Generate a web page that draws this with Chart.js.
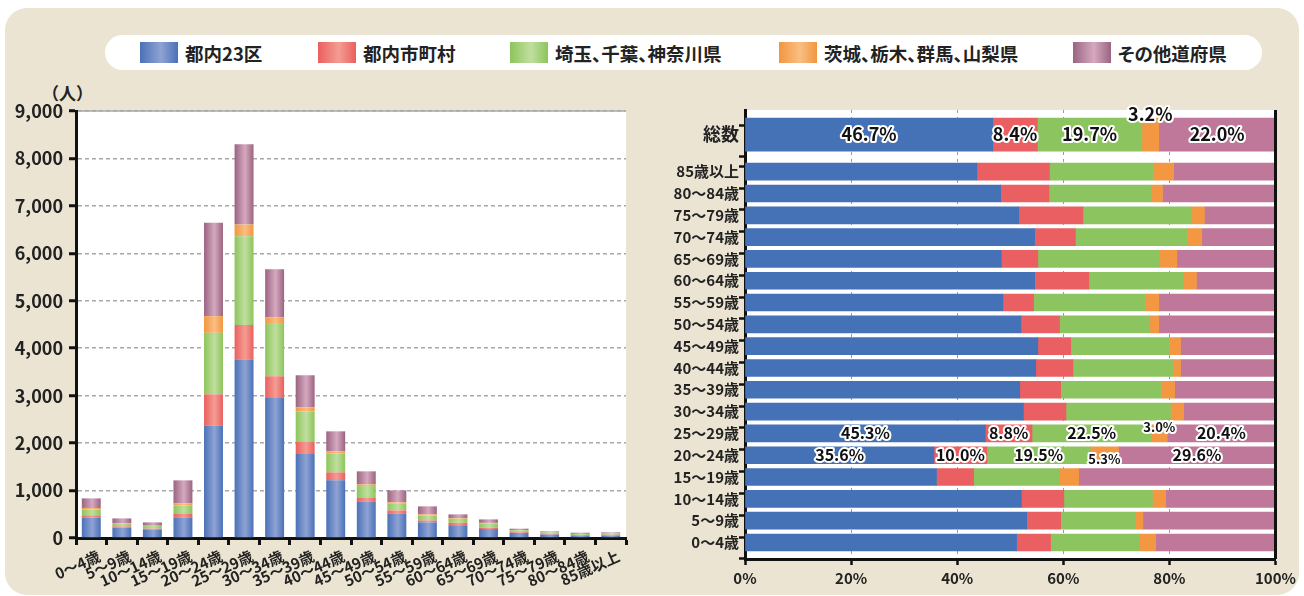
<!DOCTYPE html>
<html lang="ja">
<head>
<meta charset="utf-8">
<script src="https://cdn.jsdelivr.net/npm/chart.js@4.4.1/dist/chart.umd.min.js"></script>
<style>
  html, body { margin: 0; padding: 0; background: #fff; }
  body { width: 1304px; height: 596px; position: relative; overflow: hidden;
         font-family: "Noto Sans CJK JP", "Noto Sans", sans-serif; color: #222; }
  #panel { position: absolute; left: 5px; top: 8px; width: 1294px; height: 587px;
           background: #ebe4d2; border-radius: 22px; }
  #legend { position: absolute; left: 105px; top: 35px; width: 1157px; height: 35px;
            background: #fff; border-radius: 18px; }
  .item { position: absolute; top: 0; height: 35px; display: flex; align-items: center;
          font-size: 18.5px; font-weight: bold; white-space: nowrap; font-feature-settings: "palt"; }
  .sw { width: 38px; height: 21px; margin-right: 7px; }
  #unit { position: absolute; left: 42px; top: 84px; font-size: 17px; line-height: 17px; font-weight: bold; }
  #leftWrap { position: absolute; left: 0; top: 80px; }
  #rightWrap { position: absolute; left: 650px; top: 95px; }
</style>
</head>
<body>
<div id="panel"></div>
<div id="legend"></div>
<div id="unit">（人）</div>
<div id="leftWrap"><canvas id="leftChart" width="640" height="510"></canvas></div>
<div id="rightWrap"><canvas id="rightChart" width="650" height="496"></canvas></div>
<script>
// 年齢階級
const ageLabels = ['0～4歳', '5～9歳', '10～14歳', '15～19歳', '20～24歳', '25～29歳', '30～34歳',
  '35～39歳', '40～44歳', '45～49歳', '50～54歳', '55～59歳', '60～64歳', '65～69歳',
  '70～74歳', '75～79歳', '80～84歳', '85歳以上'];

const seriesNames = ['都内23区', '都内市町村', '埼玉、千葉、神奈川県', '茨城、栃木、群馬、山梨県', 'その他道府県'];

// 人数（人）
const personsKu        = [430, 219, 171, 435, 2365, 3760, 2966, 1770, 1215, 772, 519, 329, 270, 189, 107, 72, 54, 52];
const personsShichoson = [48, 26, 26, 84, 664, 730, 443, 267, 169, 84, 63, 42, 50, 27, 15, 17, 10, 16];
const personsKinkou    = [125, 58, 55, 169, 1295, 1868, 1103, 627, 394, 239, 141, 106, 85, 90, 41, 28, 22, 23];
const personsKitaKanto = [30, 6, 8, 42, 352, 249, 141, 91, 49, 36, 28, 21, 15, 13, 5, 3, 2, 4];
const personsOther     = [202, 104, 69, 485, 1966, 1693, 1012, 675, 421, 274, 253, 169, 78, 73, 28, 19, 24, 23];

// 構成比（％）
const shareKu        = [51.2, 53.1, 52.1, 36.1, 35.6, 45.3, 52.5, 51.8, 54.8, 55.2, 52.0, 48.6, 54.6, 48.3, 54.6, 51.6, 48.2, 43.7];
const shareShichoson = [6.4, 6.4, 8.0, 7.0, 10.0, 8.8, 8.0, 7.7, 7.0, 6.2, 7.3, 5.8, 10.2, 6.9, 7.7, 12.1, 9.1, 13.7];
const shareKinkou    = [16.7, 14.0, 16.7, 16.1, 19.5, 22.5, 19.7, 19.0, 18.8, 18.6, 17.0, 21.1, 17.7, 22.9, 21.1, 20.5, 19.2, 19.6];
const shareKitaKanto = [3.1, 1.5, 2.5, 3.7, 5.3, 3.0, 2.5, 2.5, 1.5, 2.1, 1.7, 2.5, 2.6, 3.3, 2.7, 2.4, 2.2, 3.8];
const shareOther     = [22.6, 25.0, 20.7, 37.1, 29.6, 20.4, 17.3, 19.0, 17.9, 17.9, 22.0, 22.0, 14.9, 18.6, 13.9, 13.4, 21.3, 19.2];
const shareTotal     = [46.7, 8.4, 19.7, 3.2, 22.0];

const persons = [personsKu, personsShichoson, personsKinkou, personsKitaKanto, personsOther];
const shares = [shareKu, shareShichoson, shareKinkou, shareKitaKanto, shareOther];

// colours: solid for the share bars, edge/light pairs for the shaded bars
const solid = ['#4572b7', '#ea5f62', '#8cc460', '#f39743', '#bf779a'];
const edge  = ['#4b71b7', '#ea5f5f', '#8dc45c', '#f19640', '#9b6480'];
const light = ['#8fa3d4', '#f49d93', '#c0df9f', '#f9bf82', '#d5a9c0'];

const FONT = '"Noto Sans CJK JP", "Noto Sans", sans-serif';
Chart.defaults.font.family = FONT;
Chart.defaults.color = '#222';

// legend
const legendX = [35, 213, 405, 674, 968];
const legend = document.getElementById('legend');
seriesNames.forEach((name, i) => {
  const item = document.createElement('div');
  item.className = 'item';
  item.style.left = legendX[i] + 'px';
  const sw = document.createElement('span');
  sw.className = 'sw';
  sw.style.background = `linear-gradient(to right, ${edge[i]}, ${light[i]} 55%, ${edge[i]})`;
  item.appendChild(sw);
  item.appendChild(document.createTextNode(name));
  legend.appendChild(item);
});

// white plot area, optional top / right frame lines
const plotFrame = {
  id: 'plotFrame',
  beforeDraw(chart, args, opts) {
    const { ctx, chartArea: a } = chart;
    ctx.save();
    ctx.fillStyle = '#fff';
    ctx.fillRect(a.left, a.top, a.right - a.left, a.bottom - a.top);
    if (opts.topLine) {
      ctx.strokeStyle = opts.topLine;
      ctx.lineWidth = 1.5;
      ctx.beginPath();
      ctx.moveTo(a.left, a.top);
      ctx.lineTo(a.right, a.top);
      ctx.stroke();
    }
    ctx.restore();
  },
  afterDraw(chart, args, opts) {
    if (!opts.rightLine) return;
    const { ctx, chartArea: a } = chart;
    ctx.save();
    ctx.strokeStyle = opts.rightLine;
    ctx.lineWidth = 3;
    ctx.beginPath();
    ctx.moveTo(a.right, a.top);
    ctx.lineTo(a.right, a.bottom);
    ctx.stroke();
    ctx.restore();
  }
};

// ---- left: stacked column chart of persons ----
const BAR_PCT = 0.62;
function barGradient(i) {
  return (c) => {
    const chart = c.chart;
    const xs = chart.scales.x;
    if (!chart.chartArea || !xs || c.dataIndex === undefined) return edge[i];
    const cx = xs.getPixelForTick(c.dataIndex);
    const half = xs.width / ageLabels.length * BAR_PCT / 2;
    const g = chart.ctx.createLinearGradient(cx - half, 0, cx + half, 0);
    g.addColorStop(0, edge[i]);
    g.addColorStop(0.55, light[i]);
    g.addColorStop(1, edge[i]);
    return g;
  };
}

new Chart(document.getElementById('leftChart'), {
  type: 'bar',
  data: {
    labels: ageLabels,
    datasets: persons.map((d, i) => ({
      label: seriesNames[i],
      data: d,
      backgroundColor: barGradient(i),
      borderWidth: 0,
      categoryPercentage: 1,
      barPercentage: BAR_PCT
    }))
  },
  options: {
    responsive: false,
    animation: false,
    layout: { padding: { top: 31, right: 14, left: 0, bottom: 0 } },
    plugins: {
      legend: { display: false },
      tooltip: { enabled: false },
      plotFrame: { topLine: '#aaaaaa' }
    },
    scales: {
      x: {
        stacked: true,
        grid: { offset: true, drawOnChartArea: false, tickLength: 7, tickWidth: 3, tickColor: '#111' },
        border: { color: '#111', width: 3 },
        ticks: {
          autoSkip: false, minRotation: 24, maxRotation: 24, labelOffset: 8, padding: 2,
          font: { size: 15, weight: 'bold' }, color: '#222'
        },
        afterFit: (s) => { s.height = 52; }
      },
      y: {
        stacked: true,
        min: 0,
        max: 9000,
        ticks: {
          stepSize: 1000, padding: 6, font: { size: 18, weight: 'bold' }, color: '#222',
          callback: (v) => v.toLocaleString('en-US')
        },
        grid: { color: '#a8a8a8', lineWidth: 1.5, tickLength: 7, tickWidth: 3, tickColor: '#111', tickBorderDash: [] },
        border: { color: '#111', width: 3, dash: [4, 3] },
        afterFit: (s) => { s.width = 76; }
      }
    }
  },
  plugins: [plotFrame]
});

// ---- right: 100% stacked bars of shares ----
const TOTAL_POS = 18.7;           // 総数 row, above the age rows with a small gap
const Y_MIN = -0.5;
const Y_MAX = TOTAL_POS + 0.87;
const labeledRows = ['total', 5, 4];
const smallLabelShift = { total: -20, 5: -6, 4: 4 };

const rightDatasets = [];
shares.forEach((d, i) => {
  rightDatasets.push({
    label: seriesNames[i],
    data: d.map((v, k) => ({ x: v, y: k })),
    backgroundColor: solid[i],
    borderWidth: 0,
    barThickness: 17,
    rowGroup: 'age'
  });
});
shareTotal.forEach((v, i) => {
  rightDatasets.push({
    label: seriesNames[i],
    data: [{ x: v, y: TOTAL_POS }],
    backgroundColor: solid[i],
    borderWidth: 0,
    barThickness: 33,
    rowGroup: 'total'
  });
});

function rowLabel(v) {
  if (v === TOTAL_POS) return '総数';
  if (Number.isInteger(v) && ageLabels[v]) return ageLabels[v];
  return '';
}

const shareLabels = {
  id: 'shareLabels',
  afterDatasetsDraw(chart) {
    const { ctx } = chart;
    ctx.save();
    ctx.textAlign = 'center';
    ctx.textBaseline = 'middle';
    ctx.lineJoin = 'round';
    chart.data.datasets.forEach((ds, di) => {
      const meta = chart.getDatasetMeta(di);
      meta.data.forEach((bar, k) => {
        const pt = ds.data[k];
        const row = ds.rowGroup === 'total' ? 'total' : pt.y;
        if (!labeledRows.includes(row)) return;
        const small = pt.x < 6;
        let size = row === 'total' ? 18 : 16;
        let dy = 0;
        if (small) {
          dy = smallLabelShift[row];
          if (row !== 'total') size = 13;
        }
        const p = bar.getProps(['x', 'y', 'base'], true);
        const cx = (p.x + p.base) / 2;
        const cy = p.y + dy;
        const txt = pt.x.toFixed(1) + '%';
        ctx.font = `bold ${size}px ${FONT}`;
        ctx.lineWidth = 4;
        ctx.strokeStyle = '#fff';
        ctx.strokeText(txt, cx, cy);
        ctx.fillStyle = '#111';
        ctx.fillText(txt, cx, cy);
      });
    });
    ctx.restore();
  }
};

new Chart(document.getElementById('rightChart'), {
  type: 'bar',
  data: { datasets: rightDatasets },
  options: {
    responsive: false,
    animation: false,
    indexAxis: 'y',
    layout: { padding: { top: 15, right: 23, left: 0, bottom: 0 } },
    plugins: {
      legend: { display: false },
      tooltip: { enabled: false },
      plotFrame: { rightLine: '#111' }
    },
    scales: {
      x: {
        stacked: true,
        min: 0,
        max: 100,
        ticks: {
          stepSize: 20, padding: 4, font: { size: 15, weight: 'bold' }, color: '#222',
          callback: (v) => v + '%'
        },
        grid: {
          color: (c) => (c.tick && (c.tick.value === 0 || c.tick.value === 100)) ? 'rgba(0,0,0,0)' : '#9a9a9a',
          lineWidth: 1, tickLength: 6, tickWidth: 2.5, tickColor: '#111', tickBorderDash: []
        },
        border: { color: '#111', width: 3, dash: [3, 4] },
        afterFit: (s) => { s.height = 32; }
      },
      y: {
        type: 'linear',
        stacked: true,
        min: Y_MIN,
        max: Y_MAX,
        afterBuildTicks: (axis) => {
          const t = ageLabels.map((_, k) => ({ value: k }));
          for (let k = 0; k <= ageLabels.length; k++) t.push({ value: k - 0.5 });
          t.push({ value: TOTAL_POS }, { value: TOTAL_POS - 0.82 }, { value: Y_MAX });
          axis.ticks = t.sort((a, b) => a.value - b.value);
        },
        ticks: {
          autoSkip: false, padding: 0, color: '#222',
          callback: (v) => rowLabel(v),
          font: (c) => ({ size: (c.tick && c.tick.value === TOTAL_POS) ? 18 : 15, weight: 'bold' })
        },
        grid: {
          drawOnChartArea: false, tickLength: 6, tickWidth: 2.5,
          tickColor: (c) => (c.tick && rowLabel(c.tick.value) !== '') ? 'rgba(0,0,0,0)' : '#111'
        },
        border: { color: '#111', width: 3 },
        afterFit: (s) => { s.height = undefined; s.width = 95; }
      }
    }
  },
  plugins: [plotFrame, shareLabels]
});
</script>
</body>
</html>
